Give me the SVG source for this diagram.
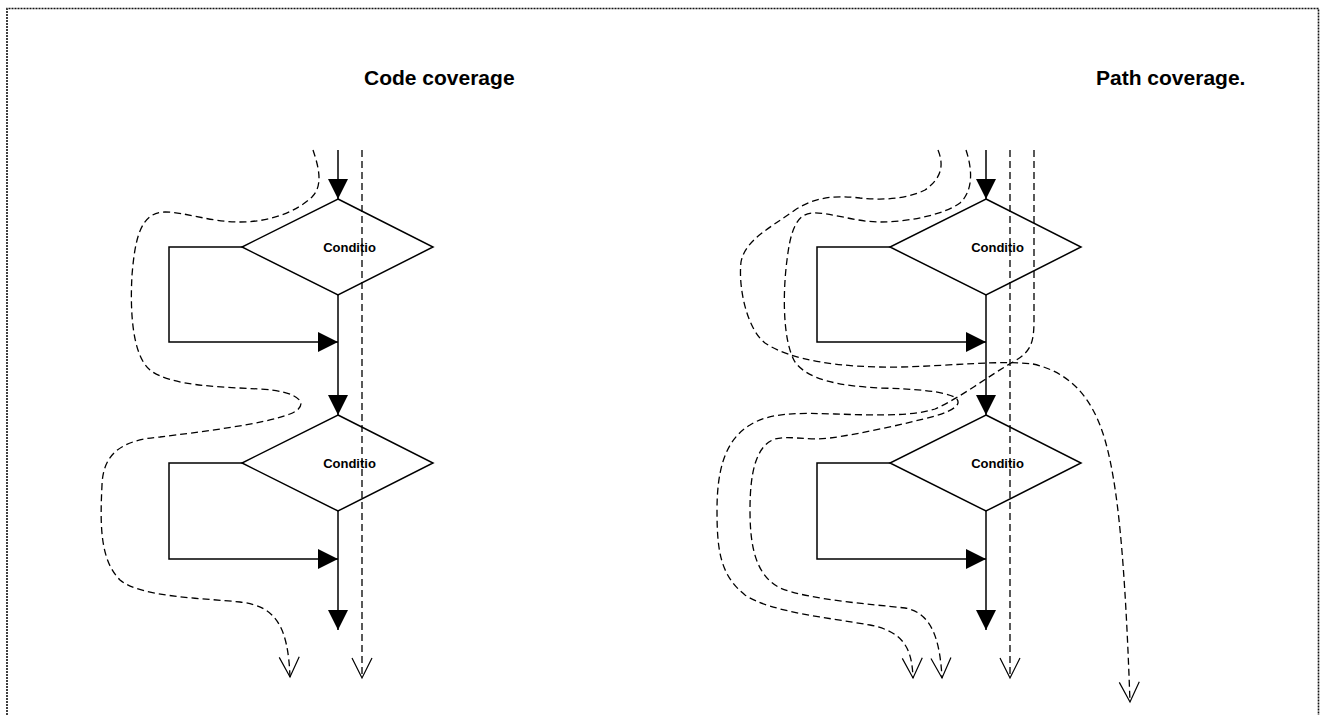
<svg xmlns="http://www.w3.org/2000/svg" width="1320" height="715" viewBox="0 0 1320 715">
  <style>
    .frame { fill: none; stroke: #111; stroke-width: 1.6; stroke-dasharray: 2 1; }
    .title { font-family: "Liberation Sans", Arial, sans-serif; font-weight: bold; font-size: 21px; fill: #000; }
    .cond { fill: #fff; stroke: #000; stroke-width: 1.5; }
    .label { font-family: "Liberation Sans", Arial, sans-serif; font-weight: bold; font-size: 13px; fill: #000; text-anchor: middle; }
    .flow { fill: none; stroke: #000; stroke-width: 1.5; marker-end: url(#solid); }
    .trace { fill: none; stroke: #000; stroke-width: 1.3; stroke-dasharray: 7 4; marker-end: url(#open); }
  </style>
  <defs>
    <marker id="solid" markerUnits="userSpaceOnUse" markerWidth="20" markerHeight="20" refX="20" refY="10" orient="auto" viewBox="0 0 20 20">
      <path d="M0,0 L20,10 L0,20 z" fill="#000"/>
    </marker>
    <marker id="open" markerUnits="userSpaceOnUse" markerWidth="22" markerHeight="22" refX="20" refY="10" orient="auto" viewBox="0 0 22 20" overflow="visible">
      <path d="M0,0 L20,10 L0,20" fill="none" stroke="#000" stroke-width="1.2" stroke-dasharray="none"/>
    </marker>
  </defs>

  <rect width="1320" height="715" fill="#fff"/>
  <path class="frame" d="M7,715 V8.5 H1318.5 V715"/>

  <text class="title" x="364" y="85">Code coverage</text>
  <text class="title" x="1096" y="85">Path coverage.</text>

  <!-- flowchart: code coverage -->
  <g id="connectors-left">
    <path class="flow" d="M338,150 V199"/>
    <path class="flow" d="M242,247 H169 V342 H338"/>
    <path class="flow" d="M338,295 V415"/>
    <path class="flow" d="M242,463 H169 V559 H338"/>
    <path class="flow" d="M338,511 V630"/>
  </g>
  <g id="cond-left-1">
    <polygon class="cond" points="338,199 433,247 338,295 242,247"/>
    <text class="label" x="349.5" y="251.5">Conditio</text>
  </g>
  <g id="cond-left-2">
    <polygon class="cond" points="338,415 433,463 338,511 242,463"/>
    <text class="label" x="349.5" y="467.5">Conditio</text>
  </g>
  <g id="traces-left">
    <path class="trace" d="M362,150 V678"/>
    <path class="trace" d="M313,150 C318,165 324,185 312,197 C296,212 270,222 240,222 C210,222 185,212 165,212 C140,212 135,240 132,275 C130,310 132,355 150,370 C170,386 220,387 260,389 C300,391 312,405 290,414 C265,424 200,432 160,437 C120,440 103,455 102,485 C100,525 100,560 120,580 C140,597 200,598 240,602 C275,606 288,625 290,677"/>
  </g>

  <!-- flowchart: path coverage -->
  <g id="connectors-right">
    <path class="flow" d="M986,150 V199"/>
    <path class="flow" d="M890,247 H817 V342 H986"/>
    <path class="flow" d="M986,295 V415"/>
    <path class="flow" d="M890,463 H817 V559 H986"/>
    <path class="flow" d="M986,511 V630"/>
  </g>
  <g id="cond-right-1">
    <polygon class="cond" points="986,199 1081,247 986,295 890,247"/>
    <text class="label" x="997.5" y="251.5">Conditio</text>
  </g>
  <g id="cond-right-2">
    <polygon class="cond" points="986,415 1081,463 986,511 890,463"/>
    <text class="label" x="997.5" y="467.5">Conditio</text>
  </g>
  <g id="traces-right">
    <path class="trace" d="M1010,150 V678"/>
    <path class="trace" d="M1034,150 L1034,320 C1034,345 1030,352 1013,362 C990,375 960,398 935,409 C910,417 870,415 835,414 C800,413 770,412 750,425 C725,440 717,470 717,510 C717,550 720,575 745,595 C770,612 830,618 870,625 C905,632 912,650 913,678"/>
    <path class="trace" d="M938,150 C944,165 942,178 925,190 C905,200 880,200 860,198 C835,195 815,197 795,210 C770,228 745,240 741,262 C738,290 748,330 765,343 C790,360 840,368 900,367 C950,366 1000,360 1033,364 C1068,372 1092,395 1105,440 C1118,485 1125,560 1130,702"/>
    <path class="trace" d="M966,150 C972,168 974,190 960,203 C945,214 910,222 880,222 C855,222 830,212 812,213 C795,214 790,235 787,260 C783,290 782,340 795,362 C808,380 840,386 880,388 C915,389 945,391 956,398 C962,404 955,410 935,416 C905,424 860,434 830,438 C805,441 790,435 775,439 C755,446 750,475 750,510 C750,545 755,575 780,588 C810,600 870,604 905,608 C932,613 940,640 942,678"/>
  </g>
</svg>
